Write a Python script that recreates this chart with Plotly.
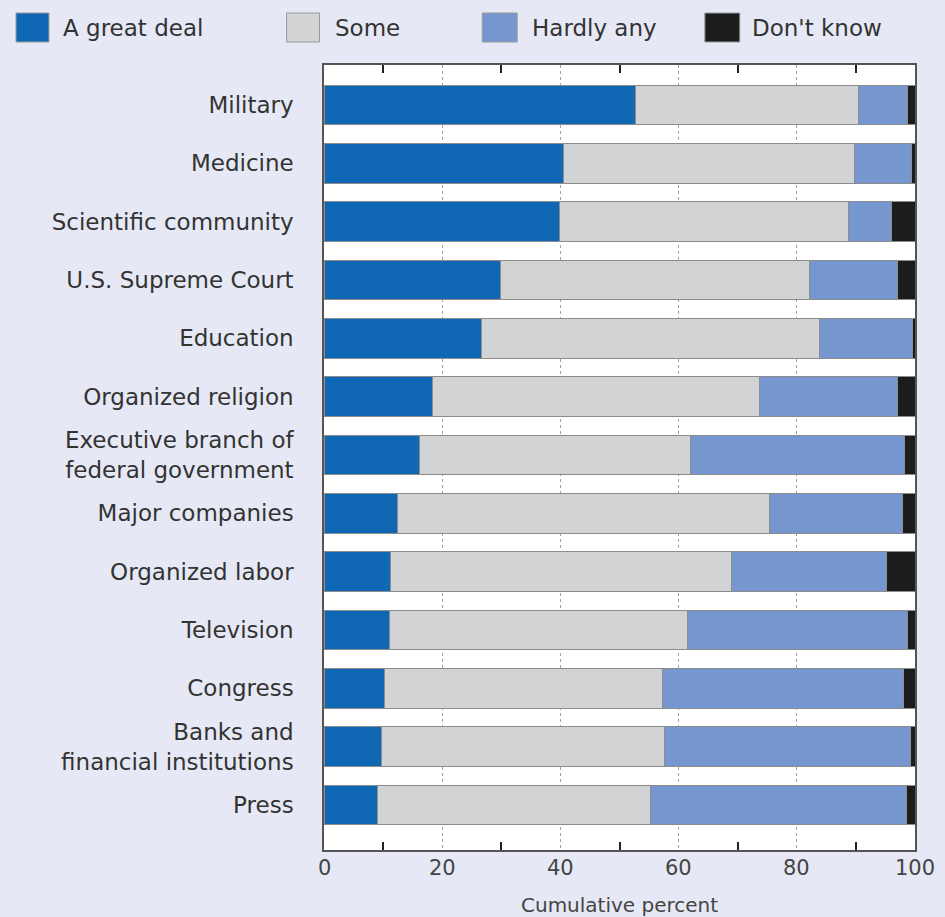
import plotly.graph_objects as go

categories = ["Military", "Medicine", "Scientific community", "U.S. Supreme Court",
              "Education", "Organized religion",
              "Executive branch of<br>federal government", "Major companies",
              "Organized labor", "Television", "Congress",
              "Banks and<br>financial institutions", "Press"]

great_deal = [52.7, 40.5, 39.8, 29.9, 26.6, 18.4, 16.2, 12.5, 11.2, 11.0, 10.3, 9.8, 9.1]
some       = [37.8, 49.3, 49.0, 52.3, 57.3, 55.3, 45.8, 62.9, 57.7, 50.5, 47.0, 47.8, 46.1]
hardly_any = [8.2, 9.6, 7.3, 14.9, 15.7, 23.3, 36.2, 22.4, 26.2, 37.2, 40.7, 41.6, 43.3]
dont_know  = [1.3, 0.6, 3.9, 2.9, 0.4, 3.0, 1.8, 2.2, 4.9, 1.3, 2.0, 0.8, 1.5]

series_names = ["A great deal", "Some", "Hardly any", "Don't know"]
series_values = [great_deal, some, hardly_any, dont_know]
colors = ["#1068b4", "#d2d3d5", "#7596cf", "#1c1c1c"]

x_tick_vals = [0, 20, 40, 60, 80, 100]
x_tick_labels = ["0", "20", "40", "60", "80", "100"]
x_small_tick_vals = [10, 30, 50, 70, 90]
x_title = "Cumulative percent"

FONT = "DejaVu Sans"
W, H = 945, 917
L, R, T, B = 323.5, 29.5, 65, 67
PW = W - L - R
PH = H - T - B
BG = "#e6e9f5"

def px_x(px):
    return (px - L) / PW

def px_y(py):
    return (H - B - py) / PH

fig = go.Figure()
for name, vals, col in zip(series_names, series_values, colors):
    fig.add_trace(go.Bar(
        y=categories, x=vals, name=name, orientation="h",
        marker=dict(color=col, line=dict(color="#8c8c8c", width=1)),
        width=0.68, showlegend=False,
    ))

shapes = []
annotations = []
legend_items = [(15, 48, 60), (286, 319, 333), (482, 517, 530), (705, 740, 750)]
for (x0, x1, tx), name, col in zip(legend_items, series_names, colors):
    shapes.append(dict(type="rect", xref="paper", yref="paper",
                       x0=px_x(x0), x1=px_x(x1), y0=px_y(42), y1=px_y(13),
                       fillcolor=col, line=dict(color="#9a9a9a", width=1)))
    annotations.append(dict(text=name, xref="paper", yref="paper",
                            x=px_x(tx), y=px_y(28), xanchor="left", yanchor="middle",
                            showarrow=False, font=dict(family=FONT, size=23, color="#333333")))

# x-axis tick labels (placed on the x data scale)
for v, lab in zip(x_tick_vals, x_tick_labels):
    annotations.append(dict(text=lab, xref="x", yref="paper", x=v, y=px_y(868),
                            xanchor="center", yanchor="middle", showarrow=False,
                            font=dict(family=FONT, size=21, color="#444444")))

annotations.append(dict(text=x_title, xref="paper", yref="paper",
                        x=0.5, y=px_y(905), xanchor="center", yanchor="middle",
                        showarrow=False, font=dict(family=FONT, size=20, color="#444444")))

fig.update_layout(
    barmode="stack",
    width=W, height=H,
    margin=dict(l=L, r=R, t=T, b=B, autoexpand=False),
    paper_bgcolor=BG,
    plot_bgcolor="#ffffff",
    shapes=shapes,
    annotations=annotations,
    xaxis=dict(
        range=[0, 100], tickmode="array", tickvals=x_small_tick_vals,
        ticks="inside", ticklen=8, tickcolor="#222222", tickwidth=2,
        showticklabels=False, showgrid=False,
        showline=True, linecolor="#555555", linewidth=1.5, mirror="ticks",
        zeroline=False, layer="above traces",
        minor=dict(tickmode="linear", tick0=0, dtick=20, ticks="",
                   showgrid=True, gridcolor="#a0a0a0", griddash="dot", gridwidth=1),
        automargin=False,
    ),
    yaxis=dict(
        range=[12.771, -0.686], showgrid=False, ticks="",
        showline=True, linecolor="#555555", linewidth=1.5, mirror=True,
        ticklabelstandoff=24,
        tickfont=dict(family=FONT, size=23, color="#333333"),
        automargin=False,
    ),
)

fig.write_html(
    "out.html",
    config={"displayModeBar": False},
    post_script="document.body.style.margin='0px';document.body.style.overflow='hidden';"
                "document.body.style.background='" + BG + "';",
)
